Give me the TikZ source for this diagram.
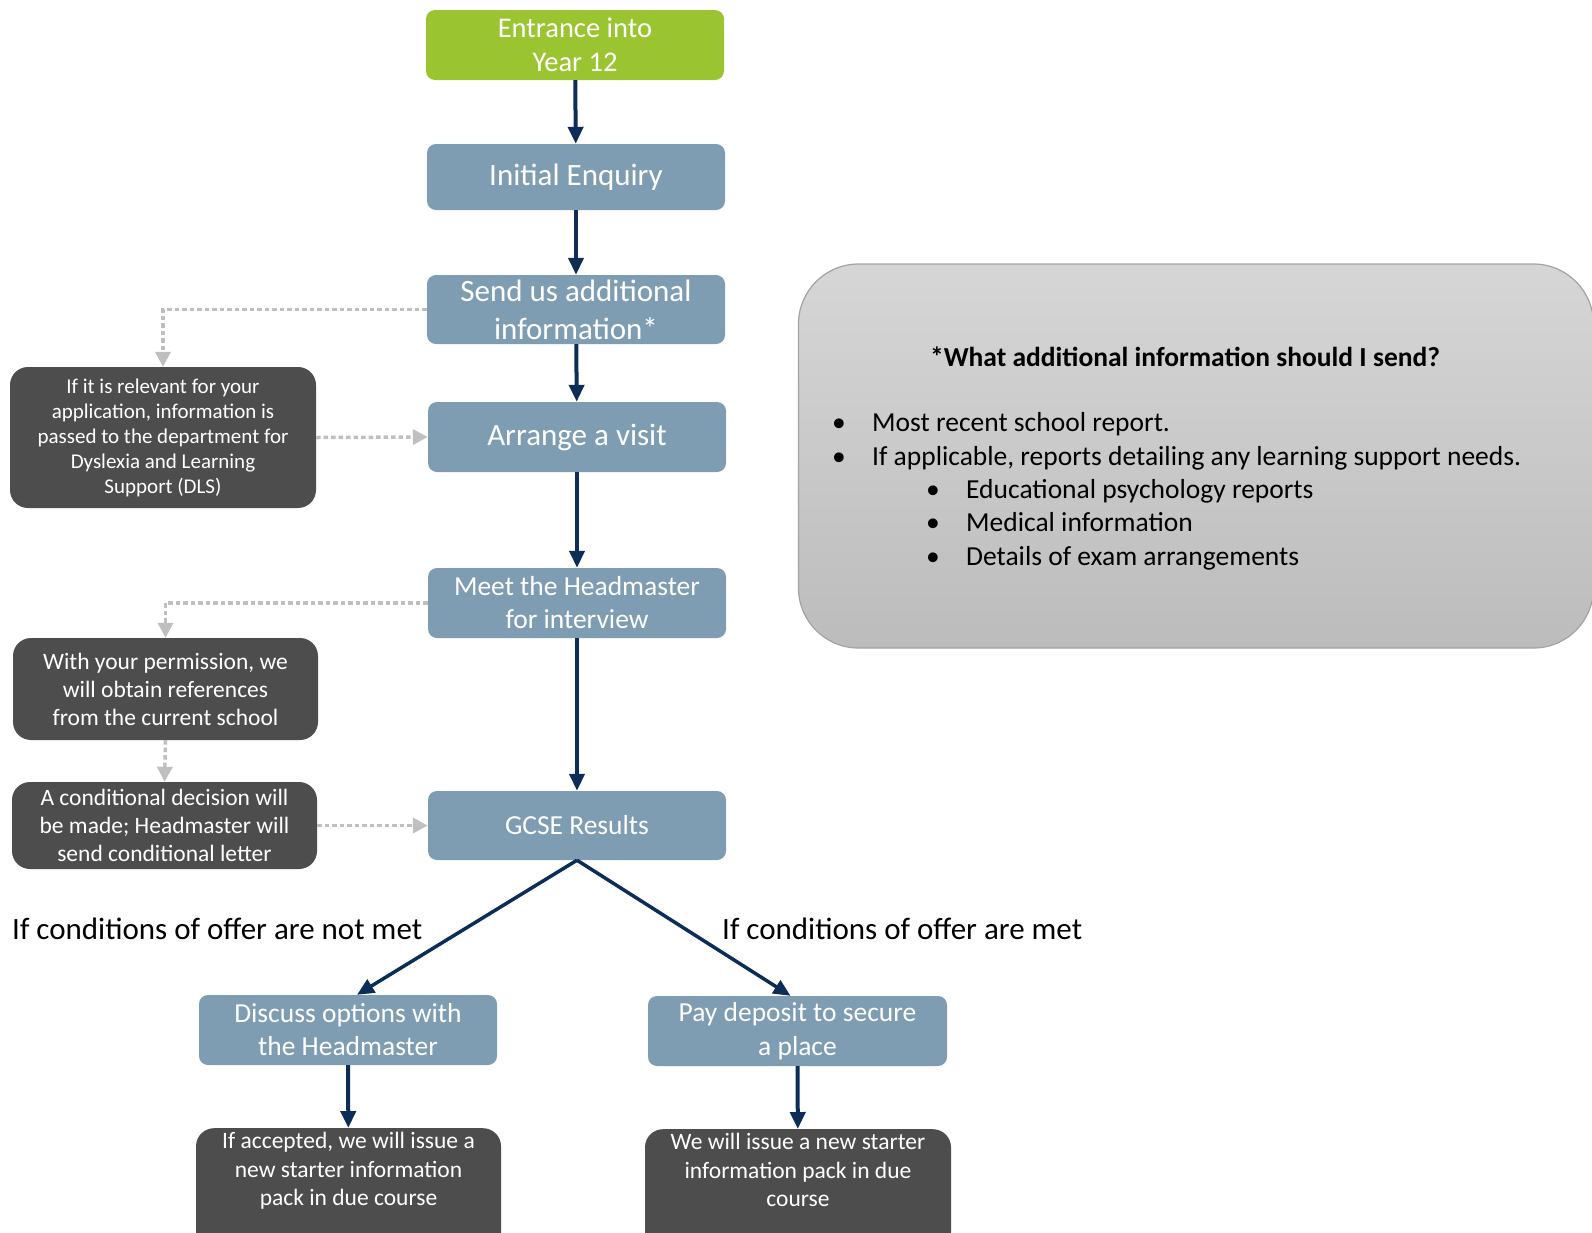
\documentclass[tikz,border=0pt]{standalone}
\usepackage{fontspec}
\setmainfont{Carlito}
\usetikzlibrary{arrows.meta,calc}
\definecolor{gr}{HTML}{9BC431}
\definecolor{bl}{HTML}{7E9CB2}
\definecolor{dk}{HTML}{4D4D4D}
\definecolor{nv}{HTML}{0C2D58}
\definecolor{dt}{HTML}{BFBFBF}
\definecolor{gtop}{HTML}{D6D6D6}
\definecolor{gbot}{HTML}{BCBCBC}
\definecolor{gbd}{HTML}{A3A3A3}
\newcommand\fsz[2]{\fontsize{#1}{#2}\selectfont}
\begin{document}
\begin{tikzpicture}[x=1pt,y=-1pt,
 bluebox/.style={rectangle,rounded corners=9pt,fill=bl,text=white,minimum width=298pt,minimum height=70pt,align=center,inner sep=0pt},
 greenbox/.style={bluebox,fill=gr},
 darkbox/.style={rectangle,rounded corners=18pt,fill=dk,text=white,align=center,inner sep=0pt,minimum width=305pt},
 flow/.style={draw=nv,line width=4pt,-{Triangle[width=15pt,length=17pt]}},
 hint/.style={draw=dt,line width=3.5pt,dash pattern=on 4.5pt off 3pt,-{Triangle[width=15pt,length=15pt]}},
 bodytext/.style={anchor=base west,inner sep=0pt,font=\fsz{27.5}{33}},
]
\useasboundingbox (0,0) rectangle (1592,1232);
\clip (0,0) rectangle (1592,1232);

% info panel
\node[draw=gbd,line width=1.2pt,rounded corners=60pt,top color=gtop,bottom color=gbot,
      minimum width=795pt,minimum height=384pt,inner sep=0pt] (info) at (1196,456) {};
\node[anchor=base,inner sep=0pt,font=\fsz{27.5}{33}\bfseries] (title) at (1185,366) {*What additional information should I send?};
\node[bodytext] (b1) at (832,431) {•};
\node[bodytext] (t1) at (872,431) {Most recent school report.};
\node[bodytext] (b2) at (832,465) {•};
\node[bodytext] (t2) at (872,465) {If applicable, reports detailing any learning support needs.};
\node[bodytext] (b3) at (926,498) {•};
\node[bodytext] (t3) at (966,498) {Educational psychology reports};
\node[bodytext] (b4) at (926,531) {•};
\node[bodytext] (t4) at (966,531) {Medical information};
\node[bodytext] (b5) at (926,565) {•};
\node[bodytext] (t5) at (966,565) {Details of exam arrangements};

% main flow
\node[greenbox,font=\fsz{28.5}{34}] (entr) at (575,45) {Entrance into\\Year 12};
\node[bluebox,font=\fsz{31}{37},minimum height=66pt] (init) at (576,177) {Initial Enquiry};
\node[bluebox,font=\fsz{31}{38},minimum height=69pt] (send) at (576,309.5) {Send us additional\\information*};
\node[bluebox,font=\fsz{31}{37}] (arr) at (577,437) {Arrange a visit};
\node[bluebox,font=\fsz{27.5}{33}] (meet) at (577,603) {Meet the Headmaster\\for interview};
\node[bluebox,font=\fsz{27.5}{33},minimum height=69pt] (gcse) at (577,825.5) {GCSE Results};
\node[bluebox,font=\fsz{27.5}{33}] (disc) at (348,1030) {Discuss options with\\the Headmaster};
\node[bluebox,font=\fsz{27.5}{34},minimum width=299pt] (pay) at (797.5,1031) {Pay deposit to secure\\a place};

% side boxes
\node[darkbox,font=\fsz{21}{25},minimum width=306pt,minimum height=141pt] (dls) at (163,437.5)
  {If it is relevant for your\\application, information is\\passed to the department for\\Dyslexia and Learning\\Support (DLS)};
\node[darkbox,font=\fsz{23.5}{28},minimum height=102pt] (perm) at (165.5,689)
  {With your permission, we\\will obtain references\\from the current school};
\node[darkbox,font=\fsz{23.5}{28},minimum height=87pt] (cond) at (164.5,825.5)
  {A conditional decision will\\be made; Headmaster will\\send conditional letter};

% bottom boxes
\node[darkbox,font=\fsz{23.5}{28.5},minimum height=130pt,anchor=north] (acc) at (348.5,1128)
  {If accepted, we will issue a\\new starter information\\pack in due course\\[20pt]\mbox{}};
\node[darkbox,font=\fsz{23.5}{28.5},minimum width=306pt,minimum height=130pt,anchor=north] (wis) at (798,1129)
  {We will issue a new starter\\information pack in due\\course\\[20pt]\mbox{}};

% labels
\node[anchor=base west,inner sep=0pt,font=\fsz{31}{37}] (lno) at (12,939) {If conditions of offer are not met};
\node[anchor=base west,inner sep=0pt,font=\fsz{31}{37}] (lyes) at (722,939) {If conditions of offer are met};

% connectors
\draw[flow] (entr) -- (init);
\draw[flow] (init) -- (send);
\draw[flow] (send) -- (arr);
\draw[flow] (arr) -- (meet);
\draw[flow] (meet) -- (gcse);
\draw[flow,line width=3.5pt] (gcse.south) -- ($(disc.north)+(9,0)$);
\draw[flow,line width=3.5pt] (gcse.south) -- ($(pay.north)+(-7,0)$);
\draw[flow] (disc) -- (acc);
\draw[flow] (pay) -- (wis);

\draw[hint] (send.west) -| (dls.north);
\draw[hint] (dls.east) -- (arr.west);
\draw[hint] (meet.west) -| (perm.north);
\draw[hint] (perm.south) -- (cond.north);
\draw[hint] (cond.east) -- (gcse.west);
\end{tikzpicture}
\end{document}
